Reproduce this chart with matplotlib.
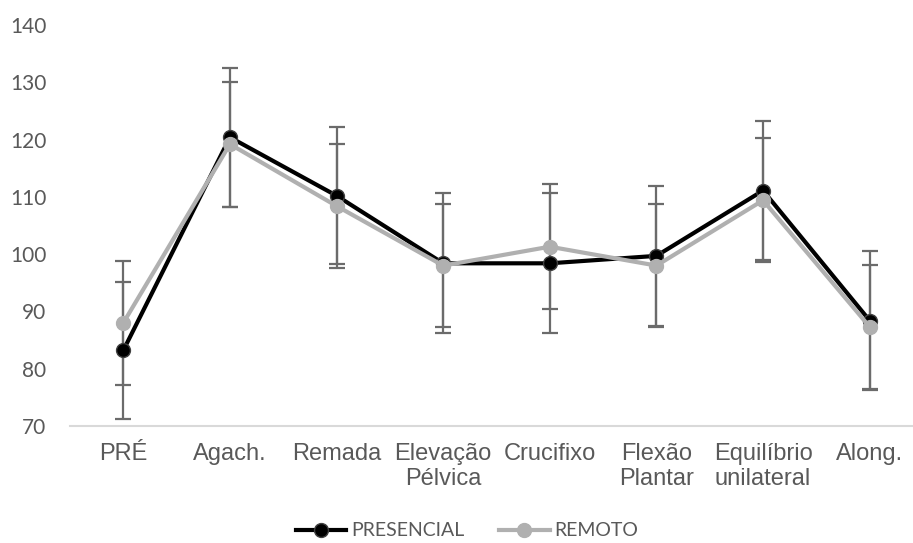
import matplotlib
matplotlib.use('Agg')
import matplotlib.pyplot as plt
import numpy as np

# dados
categorias = ['PRÉ', 'Agach.', 'Remada', 'Elevação\nPélvica', 'Crucifixo',
              'Flexão\nPlantar', 'Equilíbrio\nunilateral', 'Along.']
presencial = [83.2, 120.4, 110.2, 98.4, 98.4, 99.7, 111.1, 88.4]
presencial_dp = [12.0, 12.1, 12.0, 12.2, 12.2, 12.2, 12.2, 12.2]
remoto = [88.0, 119.2, 108.4, 98.0, 101.3, 98.0, 109.4, 87.3]
remoto_dp = [10.8, 10.9, 10.8, 10.8, 10.9, 10.8, 10.8, 10.8]
yticks = [70, 80, 90, 100, 110, 120, 130, 140]

cinza_txt = '#595959'
cinza_erro = '#6b6b6b'
cinza_remoto = '#b0b0b0'

fig = plt.figure(figsize=(9.13, 5.43), dpi=100)
ax = fig.add_axes([70 / 913, 1 - 426 / 543, 853 / 913, 401 / 543])

x = np.arange(len(categorias))

# barras de erro por baixo
ax.errorbar(x, presencial, yerr=presencial_dp, fmt='none', ecolor=cinza_erro,
            elinewidth=1.6, capsize=6, capthick=1.6, zorder=1)
ax.errorbar(x, remoto, yerr=remoto_dp, fmt='none', ecolor=cinza_erro,
            elinewidth=1.6, capsize=6, capthick=1.6, zorder=1)

ax.plot(x, presencial, color='black', lw=3, marker='o', ms=10,
        mfc='black', mec='#404040', mew=1, label='PRESENCIAL', zorder=2)
ax.plot(x, remoto, color=cinza_remoto, lw=3, marker='o', ms=10,
        mfc=cinza_remoto, mec=cinza_remoto, label='REMOTO', zorder=3)

ax.set_xlim(-0.5, len(categorias) - 0.5)
ax.set_ylim(70, 140)
ax.set_yticks(yticks)
ax.set_xticks(x)
ax.set_xticklabels(categorias, fontfamily='Liberation Sans', fontsize=17,
                   color=cinza_txt, linespacing=1.2)
for t in ax.get_yticklabels():
    t.set_fontfamily('Lato')
    t.set_fontsize(15)
    t.set_color(cinza_txt)

ax.tick_params(axis='y', length=0, pad=17)
ax.tick_params(axis='x', length=0, pad=12)
for s in ['top', 'right', 'left']:
    ax.spines[s].set_visible(False)
ax.spines['bottom'].set_color('#d9d9d9')
ax.spines['bottom'].set_linewidth(1.5)

leg = fig.legend(loc='center', bbox_to_anchor=(467 / 913, 1 - 531 / 543), ncol=2,
                 frameon=False, handlelength=2.6, handletextpad=0.25,
                 columnspacing=1.8, prop={'family': 'Lato', 'size': 14})
for t in leg.get_texts():
    t.set_color(cinza_txt)

fig.savefig('out.png', dpi=100)
